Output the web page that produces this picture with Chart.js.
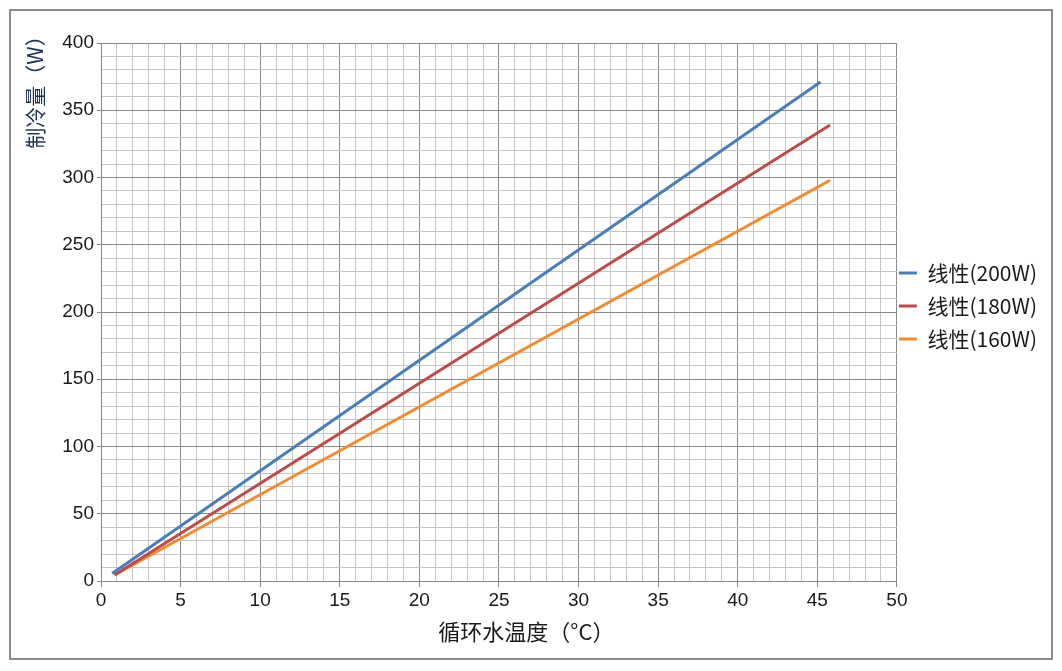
<!DOCTYPE html>
<html>
<head>
<meta charset="utf-8">
<script src="https://cdn.jsdelivr.net/npm/chart.js@4.4.0/dist/chart.umd.min.js"></script>
<style>
  html, body { margin: 0; padding: 0; background: #fff; }
  #wrap { width: 1062px; height: 671px; }
</style>
</head>
<body>
<div id="wrap"><canvas id="myChart" width="1062" height="671"></canvas></div>
<script>
// data (x = 循环水温度 °C, y = 制冷量 W)
var seriesNames = ['线性(200W)', '线性(180W)', '线性(160W)'];
var line200 = [{x: 0.7, y: 5.5}, {x: 45.2, y: 371}];
var line180 = [{x: 0.85, y: 4.5}, {x: 45.8, y: 339}];
var line160 = [{x: 0.85, y: 4.5}, {x: 45.8, y: 298}];
var seriesColors = ['#4a7ebb', '#be4b48', '#f68a2c'];
var yTitle = '制冷量（W）';
var xTitle = '循环水温度（°C）';

// grey outer frame + y title sitting near the top of the axis
var frame = {
  id: 'frame',
  afterLayout: function(chart) {
    // nudge the legend a bit left/up to sit like the original
    var l = chart.legend;
    l.left -= 10; l.right -= 10;
    l.top -= 6; l.bottom -= 6;
  },
  afterDraw: function(chart) {
    var c = chart.ctx;
    c.save();
    c.strokeStyle = '#8c8c8c';
    c.lineWidth = 2;
    c.strokeRect(10, 10, 1042, 649);
    c.translate(35, 87);
    c.rotate(-Math.PI / 2);
    c.fillStyle = '#1f3358';
    c.font = '21px "Noto Sans CJK SC"';
    c.textAlign = 'center';
    c.textBaseline = 'middle';
    c.fillText(yTitle, 0, 0);
    c.restore();
  }
};

function gridColor(step) {
  return function(ctx) {
    if (!ctx.tick) return '#c6c6c6';
    return (Math.round(ctx.tick.value) % step === 0) ? '#8a8a8a' : '#c6c6c6';
  };
}
function tickMarkColor(step) {
  return function(ctx) {
    if (!ctx.tick) return 'rgba(0,0,0,0)';
    return (Math.round(ctx.tick.value) % step === 0) ? '#8a8a8a' : 'rgba(0,0,0,0)';
  };
}

var ctx = document.getElementById('myChart').getContext('2d');
var myChart = new Chart(ctx, {
  type: 'scatter',
  data: {
    datasets: [
      { label: seriesNames[0], data: line200, borderColor: seriesColors[0], backgroundColor: seriesColors[0] },
      { label: seriesNames[1], data: line180, borderColor: seriesColors[1], backgroundColor: seriesColors[1] },
      { label: seriesNames[2], data: line160, borderColor: seriesColors[2], backgroundColor: seriesColors[2] }
    ].map(function(d) {
      d.showLine = true;
      d.borderWidth = 3;
      d.pointRadius = 0;
      return d;
    })
  },
  options: {
    responsive: false,
    animation: false,
    layout: {
      padding: { left: 12, right: 5, top: 43, bottom: 10 }
    },
    scales: {
      x: {
        min: 0,
        max: 50,
        ticks: {
          stepSize: 1,
          autoSkip: false,
          maxRotation: 0,
          color: '#1a1a1a',
          font: { family: 'Liberation Sans', size: 19 },
          padding: 2,
          callback: function(v) { return v % 5 === 0 ? v : ''; }
        },
        grid: { color: gridColor(5), tickColor: tickMarkColor(5), tickLength: 6 },
        border: { color: '#8a8a8a' },
        title: {
          display: true,
          text: '\u3000\u3000\u2002' + xTitle,
          color: '#1a1a1a',
          font: { family: 'Noto Sans CJK SC', size: 22 },
          padding: { top: 4, bottom: 16 }
        },
        afterFit: function(s) { s.height = 80; }
      },
      y: {
        min: 0,
        max: 400,
        ticks: {
          stepSize: 10,
          autoSkip: false,
          color: '#1a1a1a',
          font: { family: 'Liberation Sans', size: 19 },
          padding: 3,
          callback: function(v) { return v % 50 === 0 ? v : ''; }
        },
        grid: { color: gridColor(50), tickColor: tickMarkColor(50), tickLength: 4 },
        border: { color: '#8a8a8a' },
        afterFit: function(s) { s.width = 89; }
      }
    },
    plugins: {
      legend: {
        position: 'right',
        fullSize: false,
        labels: {
          usePointStyle: true,
          pointStyle: 'line',
          pointStyleWidth: 18,
          padding: 12,
          color: '#1a1a1a',
          font: { family: 'Noto Sans CJK SC', size: 21 }
        }
      },
      tooltip: { enabled: false }
    }
  },
  plugins: [frame]
});
</script>
</body>
</html>
